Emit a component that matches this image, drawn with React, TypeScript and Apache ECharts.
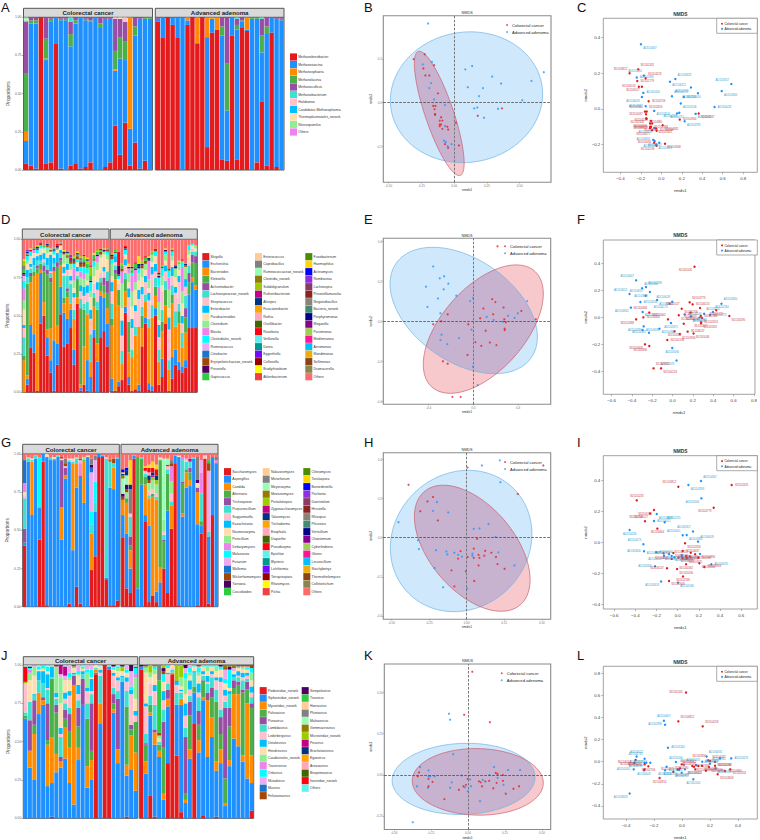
import React, { useEffect, useRef } from "react";
import * as echarts from "echarts";

const PALETTE = ["#e41a1c","#1e90ff","#ff8c00","#4daf4a","#984ea3","#40e0d0","#ffc0cb","#00bfff","#ffdead","#90ee90","#ee82ee","#00ffff","#eeaaee","#1874cd","#a0470a","#4b0060","#2ecc40","#ffcc99","#808080","#94ffb5","#8f7c00","#9dcc00","#c20088","#003380","#ffa405","#ffa8bb","#426600","#ff0010","#5ef1f2","#00998f","#740aff","#990000","#ffff00","#f04040","#4c8c00","#ffd700","#0000ff","#8f2fe0","#8b3a62","#8b2323","#8b8378","#458b74","#00008b","#8b008b","#a2cd5a","#ff1493","#00bfff","#eead0e","#8b4513","#8b864e","#ff6a6a"];
const CODES = "rbogptklwmvchundefysaijqxzARCTVDYEGOBPMNHKQSIJLUWXZ";
const STRIPS = ["Colorectal cancer", "Advanced adenoma"];
const GROUP_RED = "#e41a1c";
const GROUP_BLUE = "#1e90ff";

const taxaA = ["Methanobrevibacter","Methanosarcina","Methanosphaera","Methanolacinia","Methanoculleus","Methanobacterium","Halobonna","Candidatus Methanoplasma","Thermoplasmatales_norank","Nitrosopumilus","Others"];
const taxaD = ["Shigella","Escherichia","Bacteroides","Klebsiella","Achromobacter","Lachnospiraceae_norank","Streptococcus","Enterobacter","Parabacteroides","Clostridium","Blautia","Clostridiales_norank","Ruminococcus","Citrobacter","Erysipelotrichaceae_norank","Prevotella","Gapiscoccus","Enterococcus","Coprobacillus","Ruminococcaceae_norank","Clostridia_norank","Subdoligranulum","Ruthenibacterium","Alistipes","Fusicatenibacter","Rothia","Oscillibacter","Roseburia","Veillonella","Dorea","Eggerthella","Collinsella","Bradyrhizobium","Akkerbacterium","Fusobacterium","Haemophilus","Actinomyces","Romboutsia","Lachnospira","Prevotellamassilia","Negativibacillus","Bacteria_norank","Porphyromonas","Megarella","Parvimonas","Mediterranea","Aeromonas","Mandimonas","Sellimonas","Dramacerella","Others"];
const taxaG = ["Saccharomyces","Aspergillus","Candida","Alternaria","Trichosporon","Purpureocillium","Sugiyamaella","Kazachstania","Naumovozyma","Penicillium","Debaryomyces","Malassezia","Fusarium","Wallemia","Wickerhamomyces","Yarrowia","Coccidioides","Nakaseomyces","Metarhizium","Meyerozyma","Moesziomyces","Pestalotiopsis","Zygosaccharomyces","Talaromyces","Trichoderma","Exophiala","Diaporthe","Pseudozyma","Epichloe","Blysteris","Lichtheimia","Tetrapisispora","Rhizomyces","Pichia","Clitinomyces","Torulaspora","Bonordeniella","Pochonia","Daeristolum","Hirsutella","Rhizopus","Pleurotus","Verticillium","Chaetomium","Cyberlindnera","Gloros","Lecanicillium","Stachybotrys","Thermothelomyces","Colletotrichum","Others"];
const taxaJ = ["Podoviridae_norank","Siphoviridae_norank","Myoviridae_norank","Pahsavirus","Punavirus","Lambdavirus","Lederbergvirus","Uetakevirus","Hendrixvirus","Caudovirales_norank","Traversvirus","Oslovirus","Mutadvirus","Muvirus","Felixounavirus","Sempolovirus","Traxvirus","Hanravirus","Phietavirus","Malnaevirus","Gemmavirovirus","Microviridae_norank","Peuvirus","Brochotanivirus","Eganvirus","Areasavirus","Biseptimavirus","Inoviridae_norank","Others"];

const colsALeft = ["r4 b15 o6 g38 p34 t1 w1 m1","r3 b93 g2 p2","r1 b95 g2 p2","r100","r4 b68 o1 g13 p14","r5 b92 g2 p1","r83 b17","r1 b97 g1 p1","b98 g1 p1","r3 b78 g8 p8 t3","r4 b92 g2 p2","r1 b99","r2 b96 g1 p1","r5 b92 g1 p2","b100","b93 g3 p4","r2 b97 p1","r5 b94 p1","r29 b36 o1 g12 p21 k1","r10 b63 g14 p12 w1","r31 b41 g12 p13 k3","r3 b24 o73","r18 b70 g6 p6","r1 b98 p1","r6 b93 g1","b99 g1"];
const colsARight = ["r97 b2 p1","r87 b13","r100","r95 b5","r87 b13","b100","r95 b3 o2","r100","r83 o17","r100","r15 b72 o13","r90 b9 o1","r92 o8","r7 b81 g6 p6","r6 b33 g31 p30","r88 b12","r7 b85 g3 p4 t1","r93 b4 g1 p2","r91 b1 o8","b99 g1","r5 b94 g1","r45 b32 g11 p11 t1","r3 b86 g5 p6","r90 b10","r2 b97 p1","b98 g1 p1"];

const colsDLeft = ["o21 t12 k6 w10 m6 v8 c5 h3 i3 e2 d1 n1 y3 l2 g3 O1","r5 b4 o2 g60 t4 l5 c3 w4 m2 q1 n1 P1 y1","r29 b15 o28 g4 t3 p2 w5 c3 k1 l2 O1 R1","r26 b12 o38 g3 t4 l5 w3 v2 n1 e1","r1 u1 o77 g3 p2 t3 l3 c2 w2 d1 i1","r45 b33 o2 g4 t2 l4 w4 c2 R1 n1","r50 o9 g20 p4 t2 l4 w3 k2 c1 e1","r24 b12 o5 g36 p3 t3 l5 w3 m3 c1 q1 n1","r13 b8 o21 g30 p3 l11 t3 w2 k1 O1 n1","r1 u2 o45 b33 p3 l4 t2 w2 c2 i1","r18 b14 o12 g38 p3 l6 w2 c1 d1 R1 n1","r51 o14 b18 g3 p2 t3 l2 w3 e1 n1","r30 o6 b22 g4 t14 m6 l4 w2 k2 d1 O1 n1","r32 o14 b16 g4 p2 t8 m4 l4 k4 q1 e1 i1 n1","r42 b12 o4 t13 m4 k2 l3 w4 R1 d1 P2 n2","r18 b10 o20 k8 m5 v8 t6 l3 w3 c3 e1 i1 d1 n2","r58 o4 g12 t2 k3 w3 l3 c2 q1 O1 e1 n2","r1 b2 o2 g50 m5 t6 k5 l4 v4 c3 d1 e1 i1 n2 y2","r5 o25 g24 t4 m5 k5 l6 c4 v4 e2 R1 d1 i2 n2","r1 o30 b20 t8 k6 m5 l5 w3 c3 e3 q1 O1 i2","o10 t18 b10 c6 l6 k10 w8 m4 i6 e3 R1 d1","r36 b5 o15 g6 t3 k6 m6 c4 w5 e3 n1 O1","o12 b20 g22 t5 k8 l5 w8 m5 v4 d1 i1 e2","r36 b27 o3 g6 k3 t3 w10 m2 e1 R1 n2","r40 b22 g5 o3 p5 k4 l3 w8 m2 i1 d1","r30 b15 o10 g10 p8 t6 m3 w8 c2 e1 n1"];
const colsDRight = ["r1 o35 b8 g4 t10 k8 m8 l6 w4 c3 d1 i1 n2","r1 o73 g4 p2 t3 l4 c2 k2 e1 n1","r4 b3 o50 g10 R9 d6 k4 w3 c2 n1","r8 o11 t8 k10 m16 l10 v8 w8 e2 i1 n2","r52 o10 b4 g8 t4 k5 l4 c3 w3 R1 q1 n1","r5 b5 o16 g20 k16 m6 l6 w4 v3 O2 d1","r1 o22 t5 k14 m10 v10 l6 w8 c2 q1 i1 e2","r2 o35 t6 k10 m5 w10 v8 l4 e3 R1 d1","r1 o38 b4 k18 m5 w6 l6 c3 O5 d1 q2","r30 o12 g8 t6 k8 m6 l5 w6 i2 d1 n2","r45 o10 b4 t5 k8 m4 w4 l4 e2 R1 n2","r2 b4 o36 k12 v12 m6 t6 l5 w3 O1 d1 q1","r1 o45 b3 k20 t8 m5 l5 w3 i1 e1","r50 b5 g6 o8 t6 k4 l5 w5 c3 R1 n1","r5 o15 t8 k8 m12 v10 l8 c6 w3 d1 i1 q1","r10 b12 o18 g6 t8 k12 m6 c5 w4 e1 n1","r45 o12 g10 t6 k6 l4 m4 w3 c2 O1 d1","r1 o14 t6 k20 m12 v8 l8 w6 c4 e1 R1","r9 b14 o35 g6 k6 t6 l6 w4 m3 c3 i1 n1","r18 b10 o15 k12 t10 m6 w6 l4 d1 q1","r15 o25 b5 k14 g8 t5 m4 w4 l4 e1 O1","r13 b4 o12 k6 v16 t10 m8 l5 w8 c3 R1 i1","r16 b5 o18 p6 g10 t8 k6 m8 l5 n1 q1","r42 b22 g8 p6 t5 k2 w5 m3 c3","r42 b30 g10 o3 p5 t2 k2 w2 c1","r42 b25 g14 p5 o3 t3 w2 m2"];

const colsGLeft = ["r40 b2 p9 t20 w2 v6 u15 k2","b95 t2 m1","b60 o35 t1 w1","b97 t2","r44 b21 c32 t1","r95 b5","b97 w2 r1","b96 t2","b96 o1 w1","b98 t1","b44 o21 p31 w1 n1","b84 o2 k1 p5 y3 n2","r2 b93 t1 w1","b37 o57 k1 t1 w1","r13 b65 o16 t3 m1","r2 b83 p1 v8 h2 n1","b68 o27 m2 g1","b98 w1","r24 o24 t6 c8 u3 d2 h26 y4","r33 b29 t6 c14 h14 y3","r98 b2","r98 b1","r18 t78 b1 k1","r1 b77 t17 n1","b76 o14 t3 n3 r1","r4 b93 t1"];
const colsGRight = ["r45 b15 o10 s10 d2 q1 n2 a2 O1 B2","r12 b36 o20 g3 s6 m4 q3 d3 n2 B2","r9 b16 g3 y16 q3 o12 t13 O16 p6 k2","r97 b2","b12 g86","b80 g17 t1","r56 o20 b4 g5 t2 k2 R2 O1","r3 b50 o18 t2 m5 R3 q3 O2 n2 k3 z2","r7 o65 m6 k3 R3 O4 q2 i2 g2 j1","r3 b7 o60 t2 m6 i3 R4 O3 q3 k2","b16 o10 g70 m1 k1","r25 s40 g18 m8 t3 k2 p1","r9 b54 g24 s4 t3 k2 n1","r51 o15 m8 k5 v10 t3 y2 n2","r94 b5","r1 b97 w1","b59 o2 t14 g20 v2 p1","b78 o10 g2 t5 k1 m1","b79 g5 o4 t4 p3 j2","b97 t1","r1 b53 o21 w3 y15 p3 d2","r48 b5 t18 v14 h8 g3","r97 k2","r2 b44 t3 h40 n5 e2","r60 b38","b94 v2 y2"];

const colsJLeft = ["b65 g2 t2 i1 k19 R10","b33 o11 p20 t12 w14 m5 v2 c1 d1","b25 o30 g6 p16 t3 w12 m6 l1 v1","b68 o14 t8 l6 c2 w1","b74 o3 p2 t9 l8 c2 w1 m1","b21 o27 g3 p24 t9 l9 c3 w2 k1","r1 b22 o30 g38 l7 m1 t1","b30 o12 g27 p5 m17 t4 l3 k1 j1","b33 o4 p3 t13 k2 m17 l4 w16 h2 j6","b39 o20 g6 p6 k3 w8 l4 t4 j6 h3","b23 o23 g11 p11 k8 w7 l3 t4 c3 h5 m2","b9 o78 p6 t1 w3 l1 c1 n1","b38 o8 g14 p12 t5 w6 l6 k4 h4 c2 m1","b74 p17 t3 l2 c1 w1 m1","b20 o14 g31 t10 k8 m10 h3 l2 c2","b25 o13 g6 p31 t6 l8 c5 h3 k2 w1","r94 o2 t1 w2 b1","b62 o13 t18 l2 w2 k2","r100","r97 b2","b69 o2 g4 p6 k8 t4 l2 w2 h1 c1 d1","b36 o9 p33 t5 k7 l2 w4 m2 c1","b89 t3 w3 i3 l1 q1","r1 b27 o7 g38 t10 k6 l3 w3 h3 c2","b32 o22 g4 p3 k20 h10 l3 c2 d4","b18 o25 g20 m14 k4 l3 w8 c4 v2 n1"];
const colsJRight = ["r97 b2 d1","b29 o8 g11 p1 t6 k18 w20 l2 m3 c1 n1","r15 b52 o2 g5 k8 t6 w4 m3 i5","r1 b47 o8 p2 t16 k9 w7 l4 c2 m3 a1","b40 o4 g4 e34 y10 w2 t2 m2 n2","b12 o4 g30 p17 t8 l6 k6 c5 w6 i2 d2 n2","r36 b37 o5 p6 k6 t4 w3 c2 l1","r94 w2 t2 o1 k1","r41 b33 t8 k5 i10 l2 a1","r4 b70 o4 t4 m6 i8 w2 l1 k1","b10 o2 p37 t6 k8 l8 c4 w6 h3 m10 g4 d2","b39 o6 g22 p9 k4 t4 l6 w3 c3 h2 m2","r62 b20 t9 w3 g4 l1 c1","b43 o8 g10 p9 t9 l6 w5 c3 k3 m2 n1 h1","r2 b75 o2 g10 p1 t3 l2 w3 c1 k1","b40 o37 p5 t6 l4 w3 m3 c1 k1","b53 o13 g13 p6 t7 k2 w3 l2 c1","r1 b30 o6 g39 t8 k6 w4 l2 m3 c1","b36 o9 g10 p11 k18 t5 w5 l3 c2 d1","b8 o2 g16 p46 k4 l4 h6 t4 w4 c3 a2 n1","b34 o4 g22 p12 t9 c12 l2 w2 d2 a1","b52 o29 g4 p5 h2 w2 l2 t2 a2","b47 o34 g6 p2 t3 l3 w2 k1 c1 n1","b37 o4 g41 p2 k2 t6 l3 w2 h1 m1 n1","b26 o49 g9 p5 t2 k2 l2 w2 h1 c1 n1","r5 b18 o18 g31 p3 t4 k3 m5 l4 w4 c3 n2"];

const sdIds = ["SD1102431","SD1103812","SD1104218","SD1102779","SD1106153","SD1105527","SD1102706","SD1103464","SD1102816","SD1104037","SD1102926","SD1105119","SD1103290","SD1102388","SD1104645","SD1106602","SD1103071","SD1105823","SD1102560","SD1104382","SD1103956","SD1106247","SD1105036","SD1102198","SD1103608","SD1104890","SD1102653","SD1105471"];
const adIds = ["AD1104007","AD1102893","AD1105264","AD1103928","AD1106112","AD1102745","AD1104536","AD1103317","AD1105802","AD1102401","AD1106029","AD1104173","AD1103650","AD1105546","AD1102987","AD1106418","AD1103142","AD1104721","AD1102264","AD1105375","AD1103789","AD1106331","AD1104905","AD1102618","AD1105090","AD1103473"];

const bcRed = [[-.225,.222],[-.31,.2],[-.153,.172],[-.235,.157],[-.22,.125],[-.19,.125],[-.124,.043],[-.16,-.015],[-.143,-.015],[-.15,-.03],[-.147,-.052],[-.1,-.067],[-.11,-.082],[-.09,-.082],[-.11,-.1],[-.11,-.108],[-.09,-.12],[-.052,-.11],[-.046,-.123],[.013,-.092],[.18,-.06],[.365,-.026],[-.07,-.19],[-.046,-.207],[.036,-.196],[-.145,-.056],[-.1,-.1]];
const bcBlue = [[-.199,.363],[-.24,.176],[-.17,.187],[.137,.168],[.085,.153],[.29,.12],[.358,.088],[.684,.14],[.59,.1],[-.176,.09],[-.19,.067],[.104,.071],[.22,.067],[.19,.03],[-.153,.015],[.52,.011],[-.07,-.011],[.153,-.026],[.176,-.022],[.335,-.028],[.228,-.069],[-.07,-.107],[-.078,-.174],[-.065,-.18],[-.02,-.19],[-.05,-.2]];
const efRed = [[.216,.375],[-.187,-.378],[-.113,-.378],[.168,.111],[.197,.096],[.09,.064],[.27,.069],[-.229,.035],[.061,.015],[.177,.035],[.277,.01],[.429,.052],[.558,.01],[-.358,-.015],[-.287,0],[-.045,-.015],[.28,-.037],[.28,-.044],[.11,-.047],[.019,-.104],[.071,-.123],[.148,-.106],[.206,-.119],[-.052,-.168],[-.271,-.2],[-.229,-.212],[.29,-.005]];
const efBlue = [[-.358,.274],[-.261,.225],[-.3,.215],[-.223,.188],[-.423,.173],[-.152,.128],[-.316,.114],[-.265,.16],[-.41,.072],[-.294,.04],[-.003,.116],[-.029,.101],[.481,.101],[.119,.022],[.181,.007],[.265,-.002],[.31,.027],[.368,.017],[.397,.04],[-.016,-.042],[-.284,-.067],[-.294,-.094],[-.129,-.084],[-.232,-.114],[-.003,-.227],[.039,-.319]];
const hiRed = [[.51,.369],[.006,.358],[-.387,.27],[.34,.223],[-.224,.208],[-.261,.185],[-.309,.135],[-.192,.088],[.069,-.006],[.047,-.056],[-.041,-.069],[.123,-.067],[.164,-.077],[.079,-.088],[-.057,-.107],[.006,-.099],[.085,-.103],[.047,-.103],[.205,-.135],[.079,-.142],[.252,-.159],[-.101,-.167],[-.006,-.172],[.05,-.221],[-.082,-.249],[.195,-.099],[.117,-.092]];
const hiBlue = [[.22,.395],[.101,.369],[.224,.283],[-.198,.182],[-.224,.137],[-.123,.129],[-.454,.079],[.145,.069],[.085,.047],[.047,.045],[.192,.004],[-.324,-.013],[-.318,-.058],[-.205,-.064],[-.135,-.071],[-.129,-.086],[-.082,-.077],[-.057,-.088],[-.031,-.097],[.038,-.082],[.211,-.075],[.318,-.142],[-.214,-.155],[-.157,-.253],[.003,-.26],[.038,-.092]];
const klRed = [[.029,.626],[-.026,.365],[.148,.32],[-.331,.015],[-.34,-.009],[-.267,-.024],[-.24,-.042],[-.267,-.069],[-.16,-.147],[-.014,-.06],[-.031,-.069],[-.062,-.09],[-.002,-.024],[.074,-.039],[.086,-.045],[.117,-.039],[.143,-.036],[.095,-.069],[.171,-.081],[.193,-.048],[.188,.012],[.2,.006],[.236,0],[.236,-.036],[.255,-.114],[.307,-.084],[.345,-.069]];
const klBlue = [[-.129,.371],[-.121,.335],[-.1,.126],[-.374,-.287],[-.324,.048],[-.267,.027],[-.267,-.009],[-.255,-.009],[-.226,-.009],[-.345,-.069],[-.271,-.078],[-.11,-.045],[-.121,-.078],[-.043,-.003],[-.021,-.075],[.014,-.027],[.021,-.069],[-.002,-.099],[.081,-.159],[.1,-.03],[.145,0],[.176,.048],[.2,-.018],[.24,-.06],[.271,.03],[.352,.03]];

// direction of each sample label from its point: q w e / a d / z x c
const labelDirs = {
  cRed: "eqedazdqeazazcaazcdcdcazccx", cBlue: "cdqeczzqcdzedcadcxzcczaxzc",
  fRed: "zecedqzqcxdxczdqxcexcdcdzzc", fBlue: "qeezqcdqzcqzedcxedexzdcaxz",
  iRed: "dqwzzzqxcdazcxaccdcxdacxcdq", iBlue: "eczcdexqcqeqadazxxdczdazcx",
  lRed: "aeezaaxqxeacxdcqcxdcqecdcdc", lBlue: "wadzwqzaaaxcxwzecxxqdeeczd",
};

// ellipse parameters in data units: centre x, centre y, half-width, half-height, correlation
const ellB = { blue: [.094, .025, .581, .3, .05], red: [-.114, -.049, .19, .285, -.8] };
const ellE = { blue: [-.086, .054, .658, .316, -.42], red: [.089, -.039, .536, .321, .55] };
const ellH = { blue: [-.037, -.017, .471, .361, .1], red: [.037, -.054, .385, .322, -.5] };
const ellK = { blue: [-.03, -.024, .483, .216, .05], red: [.066, -.042, .443, .202, -.03] };

const ticksBx = [-.5, -.25, 0, .25, .5], ticksBy = [-.2, 0, .2];
const ticksEx = [-.4, 0, .4], ticksEy = [-.4, -.2, 0, .2, .4];
const ticksHx = [-.5, -.25, 0, .25, .5], ticksHy = [-.4, -.2, 0, .2, .4];
const ticksKx = [-.5, -.25, 0, .25, .5], ticksKy = [-.25, 0, .25, .5];
const ticksCx = [-.4, -.2, 0, .2, .4, .6, .8], ticksCy = [-.2, 0, .2, .4];
const ticksFx = [-.6, -.4, -.2, 0, .2, .4, .6, .8], ticksFy = [-.4, -.2, 0, .2, .4];
const ticksIx = [-.6, -.4, -.2, 0, .2, .4, .6], ticksIy = [-.4, -.2, 0, .2, .4];
const ticksLx = [-.4, -.2, 0, .2, .4], ticksLy = [-.4, -.2, 0, .2, .4, .6, .8];

const FONT = "Liberation Sans";
const DIRS: Record<string, number[]> = { q: [-9, -4], w: [0, -4], e: [9, -4], a: [-10, 0], d: [10, 0], z: [-9, 4], x: [0, 4], c: [9, 4] };

function parseCol(s: string) {
  const out = new Array(CODES.length).fill(0);
  s.split(" ").forEach((t) => { out[CODES.indexOf(t[0])] = Number(t.slice(1)); });
  return out;
}

function buildOption() {
  const grid: any[] = [], xAxis: any[] = [], yAxis: any[] = [], series: any[] = [], title: any[] = [], gfx: any[] = [];

  const text = (x: number, y: number, t: string, size: number, fill = "#333", extra: any = {}) =>
    gfx.push({ type: "text", x, y, silent: true, style: { text: t, fontSize: size, fill, fontFamily: FONT, verticalAlign: "middle", textVerticalAlign: "middle", ...extra } });
  const rect = (x: number, y: number, w: number, h: number, fill: string, stroke?: string, lw = 0) =>
    gfx.push({ type: "rect", silent: true, shape: { x, y, width: w, height: h }, style: { fill, stroke, lineWidth: lw } });

  function barFacet(idx: number, x0: number, x1: number, y0: number, y1: number, cols: string[], names: string[], rest: number, showY: boolean, stripTop: number) {
    const g = grid.length;
    grid.push({ left: x0, top: y1, width: x1 - x0, height: y0 - y1, show: true, borderColor: "#555", borderWidth: 1, backgroundColor: "#fff" });
    xAxis.push({ gridIndex: g, type: "category", data: cols.map((_, i) => String(i + 1)), axisLine: { show: false }, axisLabel: { show: false }, axisTick: { alignWithLabel: true, length: 1.5, interval: 0, lineStyle: { color: "#555", width: .5 } }, splitLine: { show: false } });
    yAxis.push({ gridIndex: g, type: "value", min: 0, max: 100, interval: 25, axisLine: { show: false }, splitLine: { show: false },
      axisTick: { show: showY, length: 1.5, lineStyle: { color: "#555", width: .5 } },
      axisLabel: { show: showY, fontSize: 3.4, color: "#666", margin: 2, fontFamily: FONT, formatter: (v: number) => (v / 100).toFixed(2) },
      name: showY ? "Proportions" : "", nameLocation: "middle", nameRotate: 90, nameGap: 9.5, nameTextStyle: { fontSize: 4.8, color: "#555", fontFamily: FONT } });
    const parsed = cols.map(parseCol);
    parsed.forEach((c) => { const s = c.reduce((a: number, b: number) => a + b, 0); if (s < 100) c[rest] += 100 - s; });
    names.forEach((name, i) => {
      const data = parsed.map((c) => c[i]);
      if (data.some((v) => v > 0)) series.push({ type: "bar", name, xAxisIndex: g, yAxisIndex: g, stack: "s" + g, data, barWidth: "90%", itemStyle: { color: PALETTE[i] }, silent: true, z: 2 });
    });
    rect(x0, stripTop, x1 - x0, y1 - stripTop, "#d9d9d9", "#555", 1);
    text((x0 + x1) / 2, (stripTop + y1) / 2, STRIPS[idx], 6.1, "#222", { fontWeight: "bold", align: "center", textAlign: "center" });
  }
  function legendCol(x: number, y: number, textDx: number, names: string[], start: number) {
    names.forEach((n, i) => {
      const yy = y + i * 7.5;
      rect(x, yy - 3.6, 7, 7.2, PALETTE[start + i]);
      text(x + textDx, yy, n, 3.4, "#333");
    });
  }
  function barPanel(left: string[], right: string[], names: string[], rest: number, f1: number[], f2: number[], y0: number, y1: number, strip: number) {
    barFacet(0, f1[0], f1[1], y0, y1, left, names, rest, true, strip);
    barFacet(1, f2[0], f2[1], y0, y1, right, names, rest, false, strip);
  }

  barPanel(colsALeft, colsARight, taxaA, 1, [23.5, 152.5], [155.3, 284], 170, 17.3, 8.3);
  legendCol(290, 57, 8.3, taxaA, 0);
  barPanel(colsDLeft, colsDRight, taxaD, 50, [22.3, 109], [110.3, 197.3], 392.3, 239.3, 229);
  [[202.3, 0, 17], [255, 17, 34], [305.3, 34, 51]].forEach(([x, a, b]) => legendCol(x, 256.7, 8.3, taxaD.slice(a, b), a));
  barPanel(colsGLeft, colsGRight, taxaG, 50, [22.7, 119.3], [121, 218], 606.7, 454, 444.3);
  [[224, 0, 17], [262.7, 17, 34], [303.3, 34, 51]].forEach(([x, a, b]) => legendCol(x, 471.7, 8.3, taxaG.slice(a, b), a));
  barPanel(colsJLeft, colsJRight, taxaJ, 28, [23.3, 137.7], [139.3, 253.7], 818.3, 665, 656.7);
  [[259.7, 0, 15], [301.7, 15, 29]].forEach(([x, a, b]) => legendCol(x, 690.7, 8.3, taxaJ.slice(a, b), a));

  function axes(fr: number[], xr: number[], yr: number[], xt: number[], yt: number[], xd: number, yd: number, labelled: boolean) {
    const g = grid.length;
    grid.push({ left: fr[0], top: fr[1], width: fr[2] - fr[0], height: fr[3] - fr[1], show: true, borderColor: "#8a8a8a", borderWidth: labelled ? .8 : 1.1 });
    const mk = (v: number, d: number) => (labelled ? v.toFixed(d).replace("-", "\u2212") : v.toFixed(d));
    const lab = { fontSize: labelled ? 4.4 : 3, color: labelled ? "#444" : "#777", fontFamily: FONT };
    xAxis.push({ gridIndex: g, type: "value", min: xr[0], max: xr[1], axisLine: { show: false, onZero: false }, splitLine: { show: false },
      axisTick: { length: labelled ? 2 : 1.2, customValues: xt, lineStyle: { color: "#777", width: .5 } },
      axisLabel: { ...lab, margin: labelled ? 4 : 1.5, customValues: xt, formatter: (v: number) => mk(v, xd) },
      name: "nmds1", nameLocation: "middle", nameGap: labelled ? 16 : 6.5, nameTextStyle: { fontSize: labelled ? 4.2 : 3.4, color: "#333", fontFamily: FONT } });
    yAxis.push({ gridIndex: g, type: "value", min: yr[0], max: yr[1], axisLine: { show: false, onZero: false }, splitLine: { show: false },
      axisTick: { length: labelled ? 2 : 1.2, customValues: yt, lineStyle: { color: "#777", width: .5 } },
      axisLabel: { ...lab, margin: labelled ? 3 : 1.5, customValues: yt, formatter: (v: number) => mk(v, yd) },
      name: "nmds2", nameLocation: "middle", nameRotate: 90, nameGap: labelled ? 16 : 9, nameTextStyle: { fontSize: labelled ? 4.2 : 3.4, color: "#333", fontFamily: FONT } });
    title.push({ text: "NMDS", left: (fr[0] + fr[2]) / 2, top: fr[1] - (labelled ? 6.7 : 4.7), padding: 0, textAlign: "center", textStyle: { fontSize: labelled ? 4.8 : 3.8, fontWeight: labelled ? "bold" : "normal", color: "#333", fontFamily: FONT } });
    return g;
  }
  // both confidence ellipses and their overlap, drawn through the axes' scales
  const ellipseSeries = (g: number, blue: number[], red: number[]) => ({
    type: "custom", xAxisIndex: g, yAxisIndex: g, data: [[...blue, ...red]], silent: true, z: 1, clip: true, encode: { x: [0, 5], y: [1, 6] },
    renderItem: (_: any, api: any) => {
      const outline = (o: number) => {
        const [cx, cy, hx, hy, r] = [0, 1, 2, 3, 4].map((i) => api.value(o + i));
        const points: number[][] = [];
        for (let k = 0; k < 120; k++) {
          const t = (k / 120) * Math.PI * 2;
          points.push(api.coord([cx + hx * Math.cos(t), cy + hy * (r * Math.cos(t) + Math.sqrt(1 - r * r) * Math.sin(t))]));
        }
        return points;
      };
      const b = outline(0), e = outline(5);
      return { type: "group", children: [
        { type: "polygon", shape: { points: b }, style: { fill: "#cfe8fb" } },
        { type: "polygon", shape: { points: e }, style: { fill: "#f8c9cc" } },
        { type: "polygon", shape: { points: e }, style: { fill: "#c7b3cf" }, clipPath: { type: "polygon", shape: { points: b } } },
        { type: "polygon", shape: { points: b }, style: { fill: "none", stroke: "#6fb5e6", lineWidth: .7 } },
        { type: "polygon", shape: { points: e }, style: { fill: "none", stroke: "#c9606e", lineWidth: .7 } },
      ] };
    },
  });
  const dots = (g: number, pts: number[][], ids: string[], color: string, labelled: boolean, dirs: string, size: number, withLines: boolean) => ({
    type: "scatter", name: color === GROUP_RED ? STRIPS[0] : STRIPS[1], xAxisIndex: g, yAxisIndex: g, silent: true, z: 3, symbolSize: size,
    itemStyle: { color, opacity: labelled ? 1 : .75 },
    data: pts.map((p, i) => ({ value: p, name: ids[i], label: labelled ? { show: true, position: "inside", offset: DIRS[dirs[i] || "d"], formatter: ids[i], fontSize: 2.6, color: color === GROUP_RED ? "#c23a48" : "#2f9fd0", fontFamily: FONT } : { show: false } })),
    ...(withLines ? { markLine: { silent: true, symbol: "none", animation: false, label: { show: false }, data: [
      { xAxis: 0, lineStyle: { type: [2.5, 1.5], color: "#777", width: 1 } },
      { yAxis: 0, lineStyle: { type: [2.5, 1.5], color: "#444", width: .8 } } ] } } : {}),
  });
  function ordination(fr: number[], xr: number[], yr: number[], xt: number[], yt: number[], xd: number, yd: number, red: number[][], blue: number[][], ell: any, legendX: number, legendY: number) {
    const g = axes(fr, xr, yr, xt, yt, xd, yd, false);
    series.push(ellipseSeries(g, ell.blue, ell.red));
    series.push(dots(g, blue, adIds, GROUP_BLUE, false, "", 2.2, false));
    series.push(dots(g, red, sdIds, GROUP_RED, false, "", 2.2, true));
    [[STRIPS[0], GROUP_RED], [STRIPS[1], GROUP_BLUE]].forEach(([n, c], i) => {
      const y = legendY + i * 7;
      gfx.push({ type: "circle", silent: true, shape: { cx: legendX - 5, cy: y, r: .9 }, style: { fill: c, opacity: .8 } });
      text(legendX, y, n, 4.1, "#222", { fontWeight: 500 });
    });
  }
  function labelledMap(fr: number[], xr: number[], yr: number[], xt: number[], yt: number[], red: number[][], blue: number[][], dr: string, db: string) {
    const g = axes(fr, xr, yr, xt, yt, 1, 1, true);
    series.push(dots(g, blue, adIds, GROUP_BLUE, true, db, 2.4, false));
    series.push(dots(g, red, sdIds, GROUP_RED, true, dr, 2.4, false));
    const bx = fr[2] - 40.6;
    rect(bx, fr[1], 40.6, 15, "#fff", "#8a8a8a", .7);
    [[STRIPS[0], GROUP_RED], [STRIPS[1], GROUP_BLUE]].forEach(([n, c], i) => {
      const y = fr[1] + 5.4 + i * 5.2;
      gfx.push({ type: "circle", silent: true, shape: { cx: bx + 5.3, cy: y, r: .9 }, style: { fill: c } });
      text(bx + 7.7, y, n, 3, "#222");
    });
  }

  ordination([383.3, 15.7, 551, 182.3], [-.541, .739], [-.365, .399], ticksBx, ticksBy, 2, 1, bcRed, bcBlue, ellB, 512, 25);
  labelledMap([603.3, 18.3, 757.3, 172.3], [-.567, .938], [-.356, .509], ticksCx, ticksCy, bcRed, bcBlue, labelDirs.cRed, labelDirs.cBlue);
  ordination([383.3, 238.3, 550.7, 404.3], [-.804, .691], [-.415, .415], ticksEx, ticksEy, 1, 1, efRed, efBlue, ellE, 510, 246.3);
  labelledMap([603.3, 240, 757.3, 394.3], [-.681, .81], [-.57, .573], ticksFx, ticksFy, efRed, efBlue, labelDirs.fRed, labelDirs.fBlue);
  ordination([383.3, 452.7, 550.7, 619.3], [-.555, .559], [-.417, .434], ticksHx, ticksHy, 2, 1, hiRed, hiBlue, ellH, 510, 462);
  labelledMap([603.3, 455.7, 757.3, 609], [-.703, .752], [-.43, .558], ticksIx, ticksIy, hiRed, hiBlue, labelDirs.iRed, labelDirs.iBlue);
  ordination([384.3, 664, 550.7, 830.7], [-.566, .559], [-.331, .673], ticksKx, ticksKy, 2, 2, klRed, klBlue, ellK, 506.7, 673.3);
  labelledMap([603.3, 666.3, 757.3, 820], [-.562, .538], [-.518, .863], ticksLx, ticksLy, klRed, klBlue, labelDirs.lRed, labelDirs.lBlue);

  [["A", 1, 7.5], ["B", 364, 7.5], ["C", 577, 7.5], ["D", 1, 219], ["E", 364, 219], ["F", 577, 219], ["G", 1, 442], ["H", 364, 442], ["I", 577, 442], ["J", 1, 655], ["K", 364, 655], ["L", 577, 655]].forEach(([t, x, y]) =>
    text(x as number, y as number, t as string, 13, "#111"));

  return { animation: false, backgroundColor: "#fff", title, grid, xAxis, yAxis, series, graphic: { elements: gfx } };
}

export default function App() {
  const ref = useRef<HTMLDivElement>(null);
  useEffect(() => {
    document.body.style.margin = "0";
    const chart = echarts.init(ref.current!, undefined, { renderer: "svg" });
    chart.setOption(buildOption() as any);
    return () => chart.dispose();
  }, []);
  return <div ref={ref} style={{ width: 760, height: 840 }} />;
}
